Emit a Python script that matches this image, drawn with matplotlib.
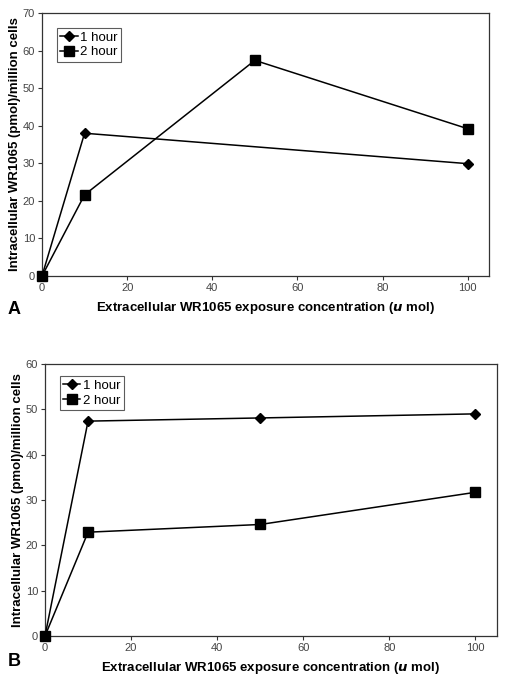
import matplotlib
matplotlib.use("Agg")
import matplotlib.pyplot as plt

plt.rcParams['font.family'] = ['Liberation Sans', 'DejaVu Sans']

# Panel A data
a_x_1h = [0, 10, 100]
a_y_1h = [0, 38.0, 29.9]
a_x_2h = [0, 10, 50, 100]
a_y_2h = [0, 21.6, 57.4, 39.2]

# Panel B data
b_x_1h = [0, 10, 50, 100]
b_y_1h = [0, 47.4, 48.1, 49.0]
b_x_2h = [0, 10, 50, 100]
b_y_2h = [0, 22.9, 24.6, 31.7]

series_labels = ["1 hour", "2 hour"]
xticks = [0, 20, 40, 60, 80, 100]
a_yticks = [0, 10, 20, 30, 40, 50, 60, 70]
b_yticks = [0, 10, 20, 30, 40, 50, 60]

xlabel = "Extracellular WR1065 exposure concentration ($\\boldsymbol{u}$ mol)"
ylabel = "Intracellular WR1065 (pmol)/million cells"

W, H = 507, 684
fig = plt.figure(figsize=(W / 100, H / 100), dpi=100)

def px_axes(l, t, r, b):
    return fig.add_axes([l / W, 1 - b / H, (r - l) / W, (b - t) / H])

axA = px_axes(42, 13, 489, 276)
axB = px_axes(45, 364, 497, 636)

def style(ax, x1, y1, x2, y2, ymax, yticks, legpos):
    ax.plot(x1, y1, color='black', lw=1.1, marker='D', ms=5.5,
            mfc='black', mec='black', label=series_labels[0], clip_on=False, zorder=3)
    ax.plot(x2, y2, color='black', lw=1.1, marker='s', ms=7,
            mfc='black', mec='black', label=series_labels[1], clip_on=False, zorder=3)
    ax.set_xlim(0, 105)
    ax.set_ylim(0, ymax)
    ax.set_xticks(xticks)
    ax.set_yticks(yticks)
    ax.tick_params(direction='out', length=3, width=0.8, colors='#333333',
                   labelsize=8, labelcolor='#444444', pad=2)
    for s in ax.spines.values():
        s.set_color('#333333')
        s.set_linewidth(0.9)
    ax.set_xlabel(xlabel, fontsize=9.5, fontweight='bold', labelpad=5)
    ax.set_ylabel(ylabel, fontsize=9.5, fontweight='bold', labelpad=1)
    leg = ax.legend(loc='upper left', bbox_to_anchor=legpos, fontsize=9.5,
                    frameon=True, fancybox=False, edgecolor='#333333',
                    handlelength=1.3, handletextpad=0.2, borderpad=0.25,
                    labelspacing=0.2, borderaxespad=0)
    leg.get_frame().set_linewidth(0.8)

style(axA, a_x_1h, a_y_1h, a_x_2h, a_y_2h, 70, a_yticks, (0.034, 0.943))
style(axB, b_x_1h, b_y_1h, b_x_2h, b_y_2h, 60, b_yticks, (0.033, 0.955))

fig.text(8 / W, 1 - 310 / H, "A", fontsize=13, fontweight='bold', va='center', ha='left')
fig.text(8 / W, 1 - 662 / H, "B", fontsize=13, fontweight='bold', va='center', ha='left')

fig.savefig("out.png", dpi=100)
